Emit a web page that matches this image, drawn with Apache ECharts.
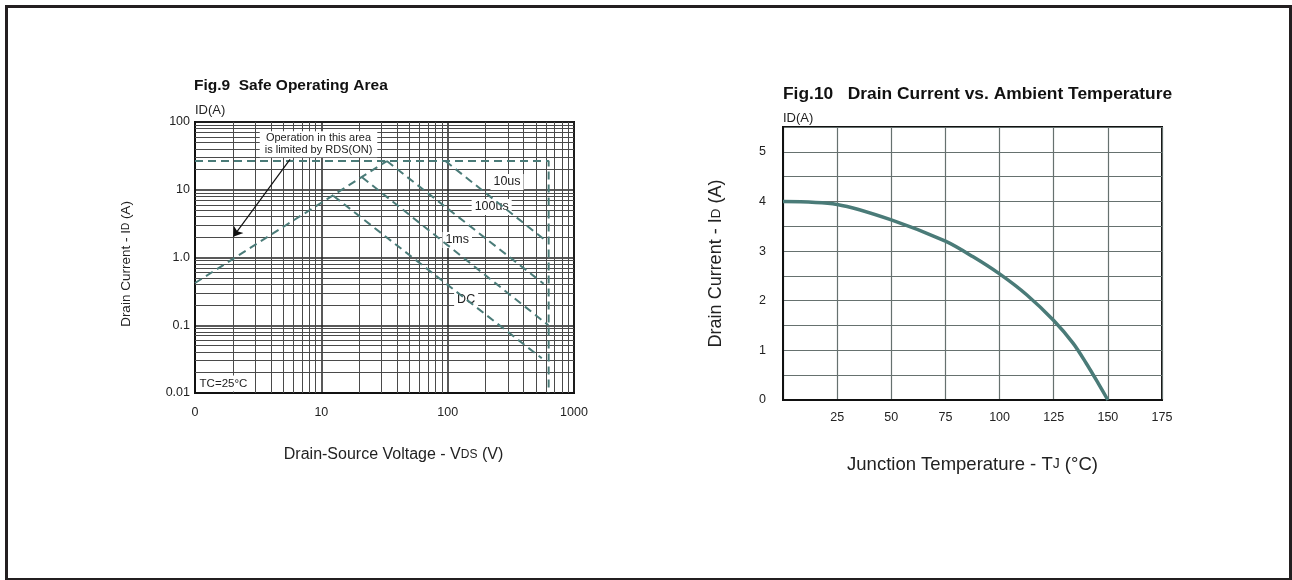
<!DOCTYPE html>
<html>
<head>
<meta charset="utf-8">
<script src="https://cdn.jsdelivr.net/npm/echarts@6/dist/echarts.min.js"></script>
<style>
  html, body { margin: 0; padding: 0; background: #fff; }
  #chart { width: 1292px; height: 580px; }
</style>
</head>
<body>
<div id="chart"></div>
<script>
// Fig.9 safe operating area (log-log), points as [VDS, ID]
const rdsLimit = [[1, 0.42], [33, 26.5]]
const currentLimit = [[1, 26.5], [630, 26.5], [630, 0.01]]
const pulse10us = [[96, 26.5], [615, 1.7]]
const pulse100us = [[33, 26.5], [575, 0.41]]
const pulse1ms = [[21, 15.3], [627, 0.1]]
const dcLine = [[12.5, 8.1], [556, 0.0325]]
const arrowPath = [[5.65, 28], [2.01, 2.03]]
// text, VDS, ID of the box centre, font size
const socNotes = [
  ['Operation in this area\nis limited by RDS(ON)', 9.5, 47, 11],
  ['10us', 295, 13.0, 12.5],
  ['100us', 223, 5.56, 12.5],
  ['1ms', 119, 1.81, 12.5],
  ['DC', 140, 0.236, 12.5],
  ['TC=25°C', 1.68, 0.0138, 11.5],
]
const logMinor = [2, 3, 4, 5, 6, 7, 8, 9]
const xDecades = [1, 10, 100]
const yDecades = [0.01, 0.1, 1, 10]
const yTickText = { '-2': '0.01', '-1': '0.1', '0': '1.0', '1': '10', '2': '100' }

// Fig.10 drain current vs temperature
const tempC = [0, 25, 50, 75, 87.6, 100, 112.5, 125, 134, 140, 145.5, 150]
const drainA = [4.0, 3.94, 3.63, 3.2, 2.89, 2.54, 2.12, 1.6, 1.14, 0.74, 0.34, 0]

const teal = '#4a7b78'
const font = 'Liberation Sans, Arial, sans-serif'

const chart = echarts.init(document.getElementById('chart'))

const minorX = []
xDecades.forEach(d => logMinor.forEach(m => minorX.push({ xAxis: d * m })))
const minorY = []
yDecades.forEach(d => logMinor.forEach(m => minorY.push({ yAxis: d * m })))

const dashed = (name, pts) => ({
  name,
  type: 'line',
  xAxisIndex: 0,
  yAxisIndex: 0,
  data: pts,
  symbol: 'none',
  silent: true,
  z: 4,
  lineStyle: { color: teal, width: 2, type: [8, 5] },
})

const frame = {
  type: 'rect',
  id: 'frame',
  shape: { x: 6.5, y: 6.5, width: 1284, height: 573 },
  style: { fill: 'none', stroke: '#231f20', lineWidth: 3 },
  silent: true,
}

const option = {
  animation: false,
  backgroundColor: '#fff',
  textStyle: { fontFamily: font },
  graphic: [frame],
  title: [
    {
      text: 'Fig.9  Safe Operating Area',
      left: 194, top: 78, padding: 0,
      textStyle: { fontSize: 15.5, fontWeight: 'bold', color: '#111', fontFamily: font },
    },
    {
      text: 'ID(A)',
      left: 195, top: 104, padding: 0,
      textStyle: { fontSize: 13, fontWeight: 'normal', color: '#222', fontFamily: font },
    },
    {
      text: 'Fig.10   Drain Current vs. Ambient Temperature',
      left: 783, top: 86, padding: 0,
      textStyle: { fontSize: 17.4, fontWeight: 'bold', color: '#111', fontFamily: font },
    },
    {
      text: 'ID(A)',
      left: 783, top: 112, padding: 0,
      textStyle: { fontSize: 13, fontWeight: 'normal', color: '#222', fontFamily: font },
    },
  ],
  grid: [
    { left: 195, top: 122, width: 379, height: 271, show: true, borderColor: '#111', borderWidth: 2, backgroundColor: '#fff' },
    { left: 783, top: 127, width: 379, height: 273, show: true, borderColor: '#111', borderWidth: 2, backgroundColor: '#fff' },
  ],
  xAxis: [
    {
      gridIndex: 0,
      type: 'log',
      logBase: 10,
      min: 1,
      max: 1000,
      axisLine: { lineStyle: { color: '#111', width: 2 } },
      axisTick: { show: false },
      splitLine: { show: true, lineStyle: { color: '#222', width: 1.5 } },
      axisLabel: {
        fontSize: 12.5, color: '#222', margin: 13,
        formatter: v => (Math.round(v) === 1 ? '0' : String(Math.round(v))),
      },
      name: 'Drain-Source Voltage - V{s|DS} (V)',
      nameLocation: 'middle',
      nameGap: 54,
      nameTextStyle: {
        fontSize: 16, color: '#222', padding: [0, 0, 0, 18],
        rich: { s: { fontSize: 12, color: '#222' } },
      },
    },
    {
      gridIndex: 1,
      type: 'value',
      min: 0,
      max: 175,
      interval: 25,
      axisLine: { lineStyle: { color: '#111', width: 2 } },
      axisTick: { show: false },
      splitLine: { show: true, lineStyle: { color: '#66716f', width: 1.2 } },
      axisLabel: {
        fontSize: 12.5, color: '#222', margin: 11,
        formatter: v => (v === 0 ? '' : String(v)),
      },
      name: 'Junction Temperature - T{s|J} (°C)',
      nameLocation: 'middle',
      nameGap: 55,
      nameTextStyle: {
        fontSize: 18.5, color: '#222', padding: [0, 0, 0, 0],
        rich: { s: { fontSize: 14, color: '#222' } },
      },
    },
  ],
  yAxis: [
    {
      gridIndex: 0,
      type: 'log',
      logBase: 10,
      min: 0.01,
      max: 100,
      axisLine: { lineStyle: { color: '#111', width: 2 } },
      axisTick: { show: false },
      splitLine: { show: true, lineStyle: { color: '#222', width: 1.5 } },
      axisLabel: {
        fontSize: 12.5, color: '#222', margin: 5,
        formatter: v => yTickText[String(Math.round(Math.log10(v)))] || '',
      },
      name: 'Drain Current - I{s|D} (A)',
      nameLocation: 'middle',
      nameGap: 62,
      nameTextStyle: {
        fontSize: 13.5, color: '#222', padding: [0, 13, 0, 0],
        rich: { s: { fontSize: 10, color: '#222' } },
      },
    },
    {
      gridIndex: 1,
      type: 'value',
      min: 0,
      max: 5.5,
      interval: 0.5,
      axisLine: { lineStyle: { color: '#111', width: 2 } },
      axisTick: { show: false },
      splitLine: { show: true, lineStyle: { color: '#66716f', width: 1.2 } },
      axisLabel: {
        fontSize: 12.5, color: '#222', margin: 17,
        formatter: v => (v % 1 === 0 ? String(v) : ''),
      },
      name: 'Drain Current - I{s|D} (A)',
      nameLocation: 'middle',
      nameGap: 58,
      nameTextStyle: {
        fontSize: 18, color: '#222',
        rich: { s: { fontSize: 13.5, color: '#222' } },
      },
    },
  ],
  series: [
    {
      name: 'minor grid',
      type: 'line',
      xAxisIndex: 0,
      yAxisIndex: 0,
      data: [],
      silent: true,
      z: 1,
      markLine: {
        z: 1,
        silent: true,
        symbol: 'none',
        label: { show: false },
        animation: false,
        lineStyle: { color: '#4a4a4a', width: 1, type: 'solid' },
        data: minorX.concat(minorY),
      },
    },
    dashed('RDS(on) limit', rdsLimit),
    dashed('current limit', currentLimit),
    dashed('10us', pulse10us),
    dashed('100us', pulse100us),
    dashed('1ms', pulse1ms),
    dashed('DC', dcLine),
    {
      name: 'arrow',
      type: 'lines',
      coordinateSystem: 'cartesian2d',
      xAxisIndex: 0,
      yAxisIndex: 0,
      silent: true,
      z: 5,
      symbol: ['none', 'arrow'],
      symbolSize: 9,
      lineStyle: { color: '#111', width: 1.2, opacity: 1 },
      data: [{ coords: arrowPath }],
    },
    {
      name: 'ID',
      type: 'line',
      xAxisIndex: 1,
      yAxisIndex: 1,
      data: tempC.map((t, i) => [t, drainA[i]]),
      symbol: 'none',
      smooth: 0.3,
      silent: true,
      z: 4,
      lineStyle: { color: teal, width: 3.5 },
    },
  ],
}

chart.setOption(option)

// white label boxes placed through the log scales of grid 0
const noteGraphics = socNotes.map((n, i) => {
  const p = chart.convertToPixel({ gridIndex: 0 }, [n[1], n[2]])
  const multi = n[0].indexOf('\n') >= 0
  return {
    type: 'text',
    id: 'note' + i,
    x: p[0],
    y: p[1],
    z: 3,
    silent: true,
    style: {
      text: n[0],
      fill: '#222',
      fontSize: n[3],
      fontFamily: font,
      lineHeight: multi ? 12 : 14,
      align: 'center',
      verticalAlign: 'middle',
      backgroundColor: '#fff',
      padding: multi ? [1, 5] : [1, 3],
    },
  }
})
chart.setOption({ graphic: [frame].concat(noteGraphics) })
</script>
</body>
</html>
